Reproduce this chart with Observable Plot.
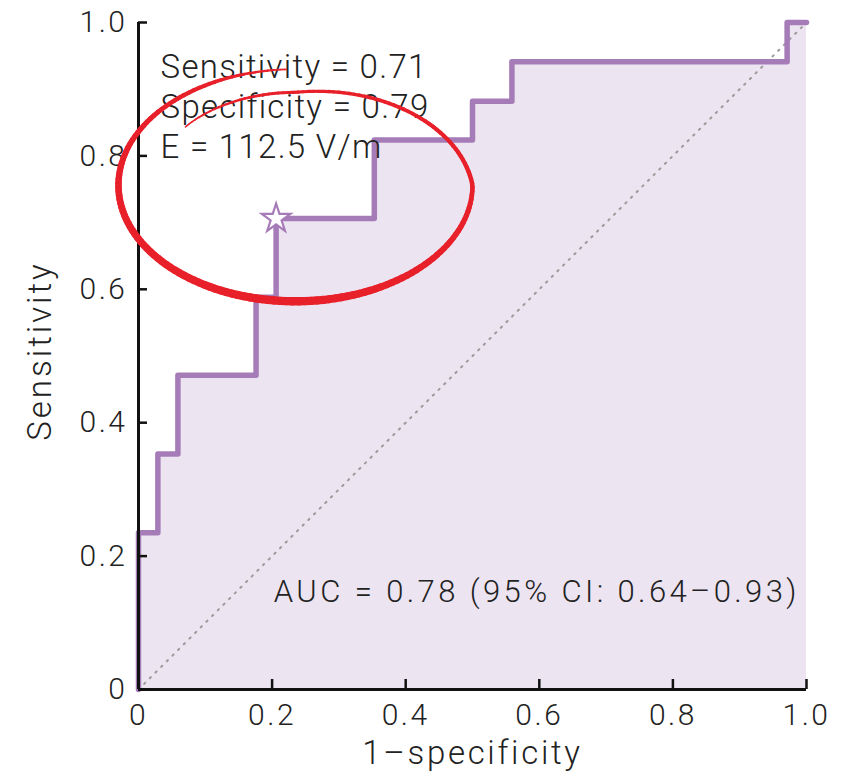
<!DOCTYPE html>
<html><head><meta charset="utf-8">
<script src="https://cdn.jsdelivr.net/npm/d3@7"></script>
<script src="https://cdn.jsdelivr.net/npm/@observablehq/plot@0.6"></script>
<style>body{margin:0;background:#fff}</style>
</head><body><div id="chart"></div>
<script>
// ROC operating points (1-specificity, sensitivity)
const fpr = [0, 0, 0.029, 0.059, 0.176, 0.206, 0.353, 0.5, 0.559, 0.971, 1];
const tpr = [0, 0.235, 0.353, 0.471, 0.588, 0.706, 0.824, 0.882, 0.941, 1, 1];
const xTicks = [0, 0.2, 0.4, 0.6, 0.8, 1.0];
const xTickLabels = ["0", "0.2", "0.4", "0.6", "0.8", "1.0"];
const yTicks = [0, 0.2, 0.4, 0.6, 0.8, 1.0];
const yTickLabels = ["0", "0.2", "0.4", "0.6", "0.8", "1.0"];
const cutoff = [{fpr: 0.206, tpr: 0.706}];
const noteLines = ["Sensitivity = 0.71", "Specificity = 0.79", "E = 112.5 V/m"];
const notePos = [{x: 0.033, y: 0.876}];
const aucText = "AUC = 0.78 (95% CI: 0.64–0.93)";
const aucPos = [{x: 0.99, y: 0.146}];
const xLabel = "1–specificity";
const yLabel = "Sensitivity";
// hand-drawn highlight loop (annotation), in data units
const loop = {cx: 0.235, cy: 0.756, rx: 0.265, ry: 0.174, start: 219, end: 628};
const loopWidthAt = {deg: [219, 260, 300, 360, 450, 540, 600, 628], w: [1.5, 3, 3.5, 4.5, 8.5, 6.5, 4, 1.5]};

const purple = "#a67cb8";
const roc = fpr.map((x, i) => ({x, y: tpr[i]}));

const wScale = d3.scaleLinear(loopWidthAt.deg, loopWidthAt.w);
const sScale = d3.scaleLinear([loop.start, 270, 360, loop.end], [0.8, 0.8, 1, 1]).clamp(true);
const pts = d3.range(loop.start, loop.end + 0.1, 2).map(deg => {
  const t = deg * Math.PI / 180, s = sScale(deg);
  return {deg, x: loop.cx + loop.rx * s * Math.cos(t), y: loop.cy - loop.ry * s * Math.sin(t)};
});
const segs = d3.pairs(pts).map(([a, b]) => ({x1: a.x, y1: a.y, x2: b.x, y2: b.y, w: wScale((a.deg + b.deg) / 2)}));

const chart = Plot.plot({
  width: 847, height: 780,
  marginLeft: 138, marginRight: 41, marginTop: 22, marginBottom: 91,
  x: {domain: [0, 1]},
  y: {domain: [0, 1]},
  style: {fontFamily: "Roboto, Lato, sans-serif", fontWeight: 300, color: "#222", background: "white"},
  marks: [
    Plot.areaY(roc, {x: "x", y: "y", curve: "step-after", fill: "#ece4f1"}),
    Plot.line([{x: 0, y: 0}, {x: 1, y: 1}], {x: "x", y: "y", stroke: "#9a9a9a", strokeWidth: 2, strokeDasharray: "1.5,6.5", strokeLinecap: "round"}),
    Plot.line(roc, {x: "x", y: "y", curve: "step-after", stroke: purple, strokeWidth: 5.5, strokeLinejoin: "round"}),
    Plot.dot(cutoff, {x: "fpr", y: "tpr", symbol: "star", r: 9, fill: "white", stroke: purple, strokeWidth: 2.2}),
    Plot.ruleY([0], {stroke: "#111", strokeWidth: 3}),
    Plot.ruleX([0], {stroke: "#111", strokeWidth: 3}),
    Plot.axisX({ticks: xTicks, tickFormat: (d, i) => xTickLabels[i], tickSize: 0, tickPadding: 14, fontSize: 30, label: null}),
    Plot.axisX({ticks: xTicks, text: null, tickSize: 10, dy: -10, strokeWidth: 2.5, stroke: "#111", label: null}),
    Plot.axisY({ticks: yTicks, tickFormat: (d, i) => yTickLabels[i], tickSize: 0, tickPadding: 11, fontSize: 30, label: null}),
    Plot.axisY({ticks: yTicks, text: null, tickSize: 9, dx: 9, strokeWidth: 2.5, stroke: "#111", label: null}),
    Plot.text([xLabel], {frameAnchor: "bottom", textAnchor: "middle", dy: 64, lineAnchor: "middle", fontSize: 33, fill: "#222"}),
    Plot.text([yLabel], {frameAnchor: "left", textAnchor: "middle", rotate: -90, dx: -98, dy: -5, lineAnchor: "middle", fontSize: 33, fill: "#222"}),
    Plot.text(notePos, {x: "x", y: "y", text: () => noteLines.join("\n"), textAnchor: "start", lineAnchor: "middle", lineHeight: 1.22, fontSize: 33, fill: "#222"}),
    Plot.text(aucPos, {x: "x", y: "y", text: () => aucText, textAnchor: "end", lineAnchor: "middle", fontSize: 31, fill: "#222"}),
    Plot.link(segs, {x1: "x1", y1: "y1", x2: "x2", y2: "y2", stroke: "#e8202a", strokeWidth: "w", strokeLinecap: "round"})
  ]
});
// letter spacing to approximate the wide geometric typeface of the original
chart.querySelectorAll("text").forEach(n => {
  const t = n.textContent;
  let v = null;
  if (xTickLabels.includes(t) || yTickLabels.includes(t)) v = "2.5px";
  else if (t === xLabel) v = "2.7px";
  else if (t === yLabel) v = "3px";
  else if (t.startsWith("AUC")) v = "3.4px";
  else if (t.startsWith("Sensitivity =")) v = "1.3px";
  if (v) n.style.letterSpacing = v;
});
document.getElementById("chart").append(chart);
</script>
</body></html>
